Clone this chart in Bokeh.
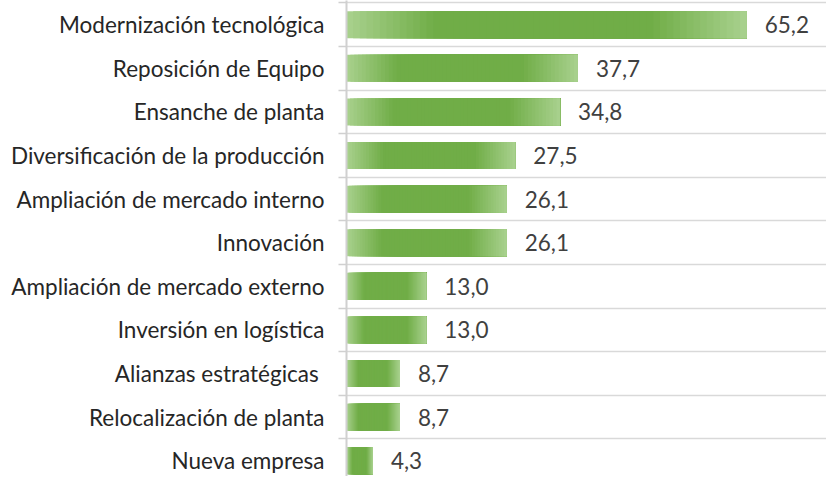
from bokeh.plotting import figure
from bokeh.models import Range1d, FixedTicker, ColumnDataSource
from bokeh.core.properties import value
from bokeh.embed import file_html
from bokeh.resources import INLINE

categories = [
    "Modernización tecnológica",
    "Reposición de Equipo",
    "Ensanche de planta",
    "Diversificación de la producción",
    "Ampliación de mercado interno",
    "Innovación",
    "Ampliación de mercado externo",
    "Inversión en logística",
    "Alianzas estratégicas ",
    "Relocalización de planta",
    "Nueva empresa",
]
values = [65.2, 37.7, 34.8, 27.5, 26.1, 26.1, 13.0, 13.0, 8.7, 8.7, 4.3]

FONT = "Lato"
FS = "22.5px"
LIGHT = (169, 209, 142)
DARK = (112, 173, 71)

n = len(categories)
ypos = [n - 1 - i for i in range(n)]

p = figure(width=826, height=476, output_backend="svg", toolbar_location=None,
           x_range=Range1d(0, 78.2), y_range=Range1d(-0.36, n - 1 + 0.556),
           x_axis_location=None, min_border_left=346, min_border_right=0,
           min_border_top=0, min_border_bottom=0)
p.outline_line_color = None
p.xgrid.visible = False

# gradient bars: overlapping slices along each bar
stops = [(0.0, LIGHT), (0.22, DARK), (0.76, DARK), (1.0, LIGHT)]

def col_at(t):
    for (t0, c0), (t1, c1) in zip(stops[:-1], stops[1:]):
        if t0 <= t <= t1:
            f = (t - t0) / (t1 - t0) if t1 > t0 else 0
            return "#%02x%02x%02x" % tuple(int(round(a + (b - a) * f)) for a, b in zip(c0, c1))
    return "#%02x%02x%02x" % stops[-1][1]

NS = 60
L, R, Y, C = [], [], [], []
for k in range(NS):
    for v, y in zip(values, ypos):
        L.append(v * k / NS)
        R.append(v)
        Y.append(y)
        C.append(col_at((k + 0.5) / NS))
p.hbar(y="y", left="l", right="r", height=0.62, fill_color="c", line_color=None,
       source=ColumnDataSource(dict(y=Y, l=L, r=R, c=C)))

labels = [("%.1f" % v).replace(".", ",") for v in values]
p.text(x=values, y=ypos, text=labels, x_offset=18, text_baseline="middle",
       text_font=value(FONT), text_font_size=FS, text_color="#404040")

yt = FixedTicker(ticks=ypos, minor_ticks=[k + 0.5 for k in range(-1, n)])
p.yaxis.ticker = yt
p.yaxis.major_label_overrides = {y: c for y, c in zip(ypos, categories)}
p.yaxis.major_tick_line_color = None
p.yaxis.major_tick_out = 0
p.yaxis.major_tick_in = 0
p.yaxis.minor_tick_out = 8
p.yaxis.minor_tick_in = 0
p.yaxis.minor_tick_line_color = "#d0d0d0"
p.yaxis.minor_tick_line_width = 1.5
p.yaxis.axis_line_color = "#d0d0d0"
p.yaxis.axis_line_width = 2
p.yaxis.major_label_standoff = 14
p.yaxis.major_label_text_font = FONT
p.yaxis.major_label_text_font_size = FS
p.yaxis.major_label_text_color = "#262626"

p.ygrid.ticker = FixedTicker(ticks=[k + 0.5 for k in range(-1, n)])
p.ygrid.grid_line_color = "#d9d9d9"
p.ygrid.grid_line_width = 1.5

open("out.html", "w").write(file_html(p, INLINE))
